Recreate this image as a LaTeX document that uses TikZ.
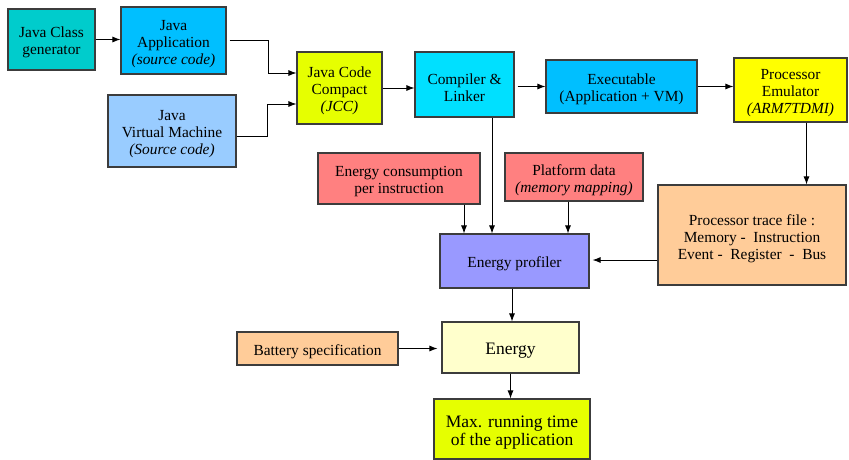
\documentclass[tikz,border=0pt]{standalone}
\usepackage{fontspec}
\setmainfont{Liberation Serif}
\usetikzlibrary{arrows.meta}
\definecolor{cteal}{RGB}{0,204,204}
\definecolor{cblue}{RGB}{0,191,255}
\definecolor{clblue}{RGB}{153,204,255}
\definecolor{cygreen}{RGB}{230,255,0}
\definecolor{ccyan}{RGB}{0,224,255}
\definecolor{cyellow}{RGB}{255,255,0}
\definecolor{cred}{RGB}{255,128,128}
\definecolor{cpeach}{RGB}{255,204,153}
\definecolor{cviolet}{RGB}{153,153,255}
\definecolor{cpale}{RGB}{255,255,204}
\definecolor{cborder}{RGB}{60,60,60}
\tikzset{
  blk/.style={draw=cborder, line width=1.1pt, inner sep=0pt, align=center,
    font=\fontsize{15.4}{17}\selectfont},
  bigblk/.style={draw=cborder, line width=1.1pt, inner sep=0pt, align=center,
    font=\fontsize{17.5}{18.5}\selectfont},
  arr/.style={draw=black, line width=0.9pt, -{Latex[length=8pt,width=6pt]}},
}
\newcommand{\bx}[8]{\node[#1, fill=#2, minimum width=#5pt, minimum height=#6pt] (#3) at (#4) {\rule{0pt}{#7pt}#8};}
\begin{document}
\begin{tikzpicture}[x=1pt,y=-1pt]
\useasboundingbox (0,0) rectangle (849,460);
\bx{blk}{cteal}{jcg}{51.5,39.5}{87}{61}{16.5}{Java Class\\generator}
\bx{blk}{cblue}{japp}{173.5,40.5}{105}{67}{16.5}{Java\\Application\\\textit{(source code)}}
\bx{blk}{clblue}{jvm}{172,131}{128}{72}{16.5}{Java\\Virtual Machine\\\textit{(Source code)}}
\bx{blk}{cygreen}{jcc}{339.5,88}{85}{72}{16.5}{Java Code\\Compact\\\textit{(JCC)}}
\bx{blk}{ccyan}{comp}{464.5,84.5}{99}{65}{16.5}{Compiler \&\\Linker}
\bx{blk}{cblue}{exe}{621.5,86.5}{151}{53}{16.5}{Executable\\(Application + VM)}
\bx{blk}{cyellow}{emu}{790.5,90}{113}{64}{16.5}{Processor\\Emulator\\\textit{(ARM7TDMI)}}
\bx{blk}{cred}{ecpi}{399,178.5}{162}{51}{16.5}{Energy consumption\\per instruction}
\bx{blk}{cred}{plat}{574,177}{138}{48}{16.5}{Platform data\\\textit{(memory mapping)}}
\bx{blk}{cpeach}{trace}{752,235}{188}{100}{17.5}{Processor trace file :\\Memory -\ \ Instruction\\Event -\ \ Register\ \ -\ \ Bus}
\bx{blk}{cviolet}{prof}{514.5,261}{149}{54}{16.5}{Energy profiler}
\bx{bigblk}{cpale}{energy}{510.5,347.5}{137}{51}{18.5}{Energy}
\bx{blk}{cpeach}{batt}{317.5,348.5}{161}{33}{16.5}{Battery specification}
\bx{bigblk}{cygreen}{maxrt}{512,429}{156}{60}{18.5}{Max. running time\\of the application}

\draw[arr] (jcg.east) -- (japp.west |- jcg.east);
\draw[arr] ([xshift=3pt]japp.east) -- (268,40.5) |- ([yshift=15pt]jcc.west);
\draw[arr] ([yshift=-5pt]jvm.east) -- (267,136) |- ([yshift=-16pt]jcc.west);
\draw[arr] (jcc.east) -- (comp.west |- jcc.east);
\draw[arr] ([xshift=3pt]comp.east |- exe.west) -- (exe.west);
\draw[arr] (exe.east) -- (emu.west |- exe.east);
\draw[arr] ([xshift=16pt]emu.south) -- ([xshift=16pt]emu.south |- trace.north);
\draw[arr] ([xshift=27.5pt]comp.south) -- ([xshift=27.5pt]comp.south |- prof.north);
\draw[arr] ([xshift=65pt]ecpi.south) -- ([xshift=65pt]ecpi.south |- prof.north);
\draw[arr] ([xshift=-6pt]plat.south) -- ([xshift=-6pt]plat.south |- prof.north);
\draw[arr] ([yshift=-25pt]trace.west) -- ([xshift=3pt,yshift=-25pt]trace.west -| prof.east);
\draw[arr] ([xshift=-2.5pt]prof.south) -- ([xshift=-2.5pt]prof.south |- energy.north);
\draw[arr] (energy.south) -- (energy.south |- maxrt.north);
\draw[arr] (batt.east) -- ([xshift=-4pt]energy.west |- batt.east);
\end{tikzpicture}
\end{document}
